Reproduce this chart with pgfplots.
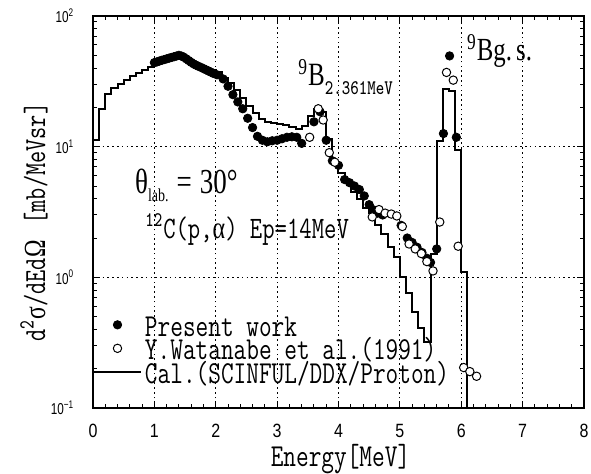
\documentclass[border=0pt]{standalone}
\usepackage{fontspec}
\setmainfont{Liberation Serif}
\newfontfamily\ticksf{Liberation Sans}
\newfontfamily\grk{Liberation Serif}
\usepackage{graphicx}
\usepackage{pgfplots}
\pgfplotsset{compat=1.18}

% text in this figure is set slightly taller than wide
\newcommand\vs[1]{\scalebox{1}[1.3]{#1}}
\newcommand\vt[1]{\scalebox{1}[1.2]{#1}}
\newcommand\ny[1]{\scalebox{0.78}[1.05]{#1}}
\newcommand\lbl{\ttfamily\fontsize{12.3}{13}\selectfont}

\pgfplotsset{
  markleg/.style={legend image code/.code={\path[draw=none,fill=none] (0pt,0pt) -- (23.5pt,0pt);
    \draw[##1] plot coordinates {(11.75pt,3pt)};}},
  lineleg/.style={legend image code/.code={\draw[##1] (0pt,3pt) -- (23.5pt,3pt);}},
}

\begin{document}
\begin{tikzpicture}
\useasboundingbox (0,0) rectangle (295.5pt,236.5pt);
\begin{axis}[
  at={(46.5pt,32.5pt)}, anchor=south west,
  scale only axis, width=245.5pt, height=196pt,
  ymode=log, xmin=0, xmax=8, ymin=0.1, ymax=100,
  axis line style={line width=0.6pt},
  xtick={0,1,2,3,4,5,6,7,8},
  xticklabels={\vt{0},\vt{1},\vt{2},\vt{3},\vt{4},\vt{5},\vt{6},\vt{7},\vt{8}},
  minor x tick num=4,
  ytick={0.1,1,10,100},
  yticklabels={\ny{10\textsuperscript{−1}},\ny{10\textsuperscript{0}},\ny{10\textsuperscript{1}},\ny{10\textsuperscript{2}}},
  minor ytick={0.2,0.3,0.4,0.5,0.6,0.7,0.8,0.9,2,3,4,5,6,7,8,9,20,30,40,50,60,70,80,90},
  tick align=inside, xtick pos=both, ytick pos=both,
  major tick length=3.5pt, minor tick length=2pt,
  every tick/.style={black, line width=0.5pt},
  xticklabel style={font=\ticksf\fontsize{8}{9}\selectfont, yshift=-4.5pt},
  yticklabel style={font=\ticksf\fontsize{7.5}{9}\selectfont, xshift=-6pt},
  xmajorgrids, ymajorgrids,
  major grid style={black, line width=0.5pt, dash pattern=on 0.8pt off 1.6pt},
  xlabel={\vs{\lbl Energy[MeV]}},
  xlabel style={at={(axis description cs:0.5,0)}, anchor=base, yshift=-29pt, xshift=1pt},
  legend cell align=left,
  legend style={at={(rel axis cs:0,0.047)}, anchor=south west, draw=none, fill=none,
    inner sep=0pt, outer sep=0pt, row sep=0pt,
    font=\lbl,
    nodes={inner sep=0pt, text height=8.5pt, text depth=3.25pt},
    /tikz/every odd column/.style={column sep=1.5pt}},
]

% calculation: 0.1 MeV bins, left edges
\addplot[const plot, black, line width=1pt, forget plot] coordinates {
(0.0,11.3) (0.1,19.5) (0.2,25.4) (0.3,28.2) (0.4,30.3) (0.5,32.4) (0.6,34.8)
(0.7,36.7) (0.8,38.7) (0.9,41.0) (1.0,43.0) (1.1,44.5) (1.2,46.0) (1.3,47.5)
(1.4,48.5) (1.5,47.0) (1.6,44.5) (1.7,42.0) (1.8,40.0) (1.9,38.5) (2.0,37.0)
(2.1,33.5) (2.2,30.5) (2.3,27.0) (2.4,23.5) (2.5,20.5) (2.6,18.2) (2.7,16.4)
(2.8,15.5) (2.9,15.2) (3.0,14.9) (3.1,14.6) (3.2,14.2) (3.3,13.7) (3.4,14.5)
(3.5,17.3) (3.6,19.5) (3.7,18.5) (3.8,11.5) (3.9,7.5) (4.0,6.3) (4.1,5.6)
(4.2,4.5) (4.3,4.0) (4.4,3.4) (4.5,3.1) (4.6,2.5) (4.7,2.15) (4.8,1.7)
(4.9,1.42) (5.0,1.0) (5.1,0.755) (5.2,0.54) (5.3,0.41) (5.4,0.32) (5.5,1.5)
(5.6,11.1) (5.7,27.5) (5.8,26.5) (5.9,9.5) (6.0,1.1) (6.1,0.01)
};

% present work
\addplot[only marks, mark=*, mark size=2.1pt, black, forget plot] coordinates {
(1.00,44.0) (1.04,44.5) (1.08,45.2) (1.12,45.8) (1.16,46.4) (1.20,47.0)
(1.24,47.6) (1.28,48.2) (1.32,48.8) (1.36,49.4) (1.40,50.0) (1.44,49.4)
(1.48,48.4) (1.52,47.0) (1.56,45.6) (1.60,44.2) (1.64,43.0) (1.68,42.0)
(1.72,41.2) (1.76,40.4) (1.80,39.6) (1.84,38.8) (1.88,38.0) (1.92,37.2)
(1.96,36.4) (2.02,35.5) (2.12,33.0) (2.20,29.0) (2.28,25.0) (2.36,22.0)
(2.44,19.5) (2.52,16.5) (2.60,14.0) (2.68,12.0) (2.76,11.2) (2.84,10.9)
(2.92,11.1) (3.00,11.2) (3.08,11.5) (3.16,11.8) (3.24,11.9) (3.32,11.8)
(3.40,10.6) (3.60,15.5) (3.70,18.5) (3.80,11.2) (3.90,7.8) (4.00,7.2)
(4.10,5.6) (4.18,5.3) (4.26,5.0) (4.34,4.7) (4.42,4.2) (4.50,3.6)
(4.56,3.3) (4.64,3.1) (4.72,3.0) (5.02,2.5) (5.12,2.0) (5.20,1.85)
(5.28,1.7) (5.36,1.55) (5.44,1.4) (5.50,1.3) (5.60,1.65) (5.71,12.6)
(5.81,49.5) (5.92,11.8)
};

% Watanabe et al. (1991)
\addplot[only marks, mark=*, mark size=2.1pt, draw=black, fill=white, line width=0.5pt, forget plot] coordinates {
(3.53,11.8) (3.67,19.5) (3.75,16.0) (3.85,9.0) (3.94,7.6) (4.55,2.9)
(4.66,3.3) (4.76,3.1) (4.86,3.05) (4.95,2.95) (5.04,2.45) (5.15,1.8)
(5.25,1.65) (5.35,1.52) (5.44,1.32) (5.54,1.12) (5.65,2.65) (5.76,37.0)
(5.87,32.3) (5.95,1.73) (6.04,0.204) (6.14,0.19) (6.25,0.175)
};

\addlegendimage{only marks, mark=*, mark size=2.1pt, black, markleg}
\addlegendentry{\vs{Present work}}
\addlegendimage{only marks, mark=*, mark size=2.1pt, draw=black, fill=white, line width=0.5pt, markleg}
\addlegendentry{\vs{Y.Watanabe et al.(1991)}}
\addlegendimage{black, line width=1pt, lineleg}
\addlegendentry{\vs{Cal.(SCINFUL/DDX/Proton)}}

\node[anchor=base west, inner sep=0pt] at (axis cs:0.68,4.37)
  {\vs{\fontsize{13.5}{15}\selectfont θ\raisebox{-3pt}{\fontsize{7}{8}\selectfont lab.}\hspace{4pt}=\hspace{4pt}30°}};
\node[anchor=base west, inner sep=0pt] at (axis cs:0.845,1.99)
  {\vs{\ttfamily\fontsize{12}{13}\selectfont\textsuperscript{12}C(p,{\grk α}) Ep=14MeV}};
\node[anchor=base west, inner sep=0pt] at (axis cs:3.34,29.3)
  {\vs{\fontsize{12.5}{14}\selectfont\textsuperscript{9}B\raisebox{-3.5pt}{\ttfamily\fontsize{8}{10}\selectfont 2.361MeV}}};
\node[anchor=base west, inner sep=0pt] at (axis cs:6.09,45.3)
  {\vs{\fontsize{12.4}{14}\selectfont\textsuperscript{9}Bg.\,s.}};
\end{axis}
\node[rotate=90] at (17pt,125.5pt)
  {\vs{\ttfamily\fontsize{11.8}{13}\selectfont d\textsuperscript{2}{\grk σ}/dEd{\grk Ω} \,[mb/MeVsr]}};
\end{tikzpicture}
\end{document}
